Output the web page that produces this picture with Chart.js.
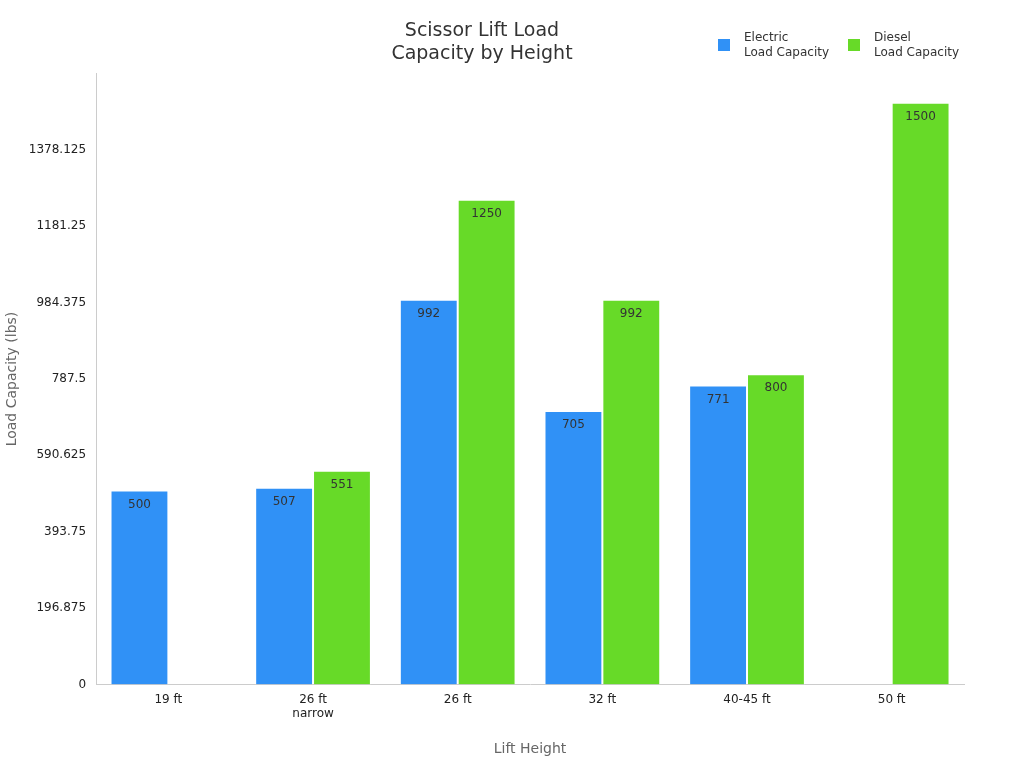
<!DOCTYPE html>
<html><head><meta charset="utf-8">
<script src="https://cdn.jsdelivr.net/npm/chart.js@4"></script>
<style>body{margin:0;background:#fff}#w{width:1024px;height:768px}</style>
</head><body><div id="w"><canvas id="c"></canvas></div>
<script>
const categories=[["19 ft"],["26 ft","narrow"],["26 ft"],["32 ft"],["40-45 ft"],["50 ft"]];
const electric=[500,507,992,705,771,null];
const diesel=[null,551,1250,992,800,1500];
const seriesNames=[["Electric","Load Capacity"],["Diesel","Load Capacity"]];
const colors=["#3091f6","#67da28"];
const F="'DejaVu Sans', sans-serif";
const labelPlugin={id:'lbl',afterDatasetsDraw(ch){const ctx=ch.ctx;ctx.save();ctx.font="12px "+F;ctx.fillStyle="#333";ctx.textAlign="center";ctx.textBaseline="top";
ch.data.datasets.forEach((ds,i)=>{ch.getDatasetMeta(i).data.forEach((b,j)=>{if(ds.data[j]==null)return;ctx.fillText(ds.data[j],b.x,b.y+8);});});
// legend
const items=[{x:718},{x:848}];
items.forEach((it,i)=>{ctx.fillStyle=colors[i];ctx.fillRect(it.x,39,12,12);ctx.fillStyle="#333";ctx.textAlign="left";ctx.textBaseline="middle";ctx.font="12px "+F;ctx.fillText(seriesNames[i][0],it.x+26,38);ctx.fillText(seriesNames[i][1],it.x+26,53);});
ctx.restore();}};
new Chart(document.getElementById('c'),{type:'bar',
data:{labels:categories,datasets:[
{label:seriesNames[0].join(' '),data:electric,backgroundColor:colors[0],borderColor:'#fff',borderWidth:1,categoryPercentage:0.8,barPercentage:1},
{label:seriesNames[1].join(' '),data:diesel,backgroundColor:colors[1],borderColor:'#fff',borderWidth:1,categoryPercentage:0.8,barPercentage:1}]},
options:{responsive:true,maintainAspectRatio:false,animation:false,
layout:{padding:{left:0,right:60,top:0,bottom:6}},
plugins:{legend:{display:false},tooltip:{enabled:false},
title:{display:true,text:["Scissor Lift Load","Capacity by Height"],color:"#333",font:{family:F,size:19,weight:'normal'},padding:{top:20,bottom:8},lineHeight:1.3}},
scales:{
x:{grid:{display:false,drawTicks:false},border:{color:'#ccc'},ticks:{color:'#222',font:{family:F,size:12},padding:8},
title:{display:true,text:'Lift Height',color:'#666',font:{family:F,size:14},padding:{top:12}}},
y:{min:0,max:1575,grid:{display:false,drawTicks:true,tickLength:6},border:{color:'#ccc'},
ticks:{stepSize:200,color:'#222',font:{family:F,size:12},padding:4,callback:v=>v<=1400?v:''},
title:{display:true,text:'Load Capacity (lbs)',color:'#666',font:{family:F,size:14}}}}},
plugins:[labelPlugin]});
</script></body></html>
